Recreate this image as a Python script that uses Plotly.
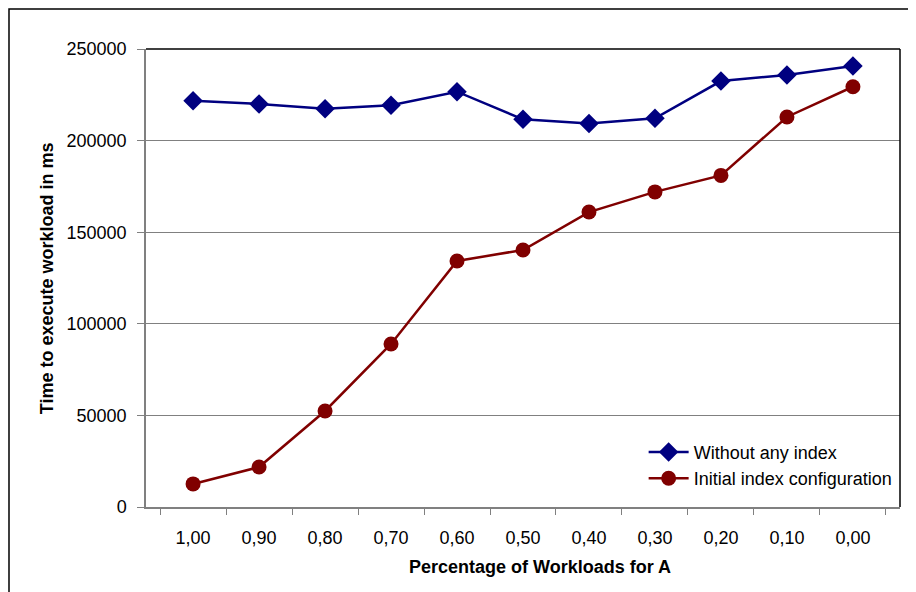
import plotly.graph_objects as go

# Data
workload_share = ["1,00", "0,90", "0,80", "0,70", "0,60", "0,50", "0,40", "0,30", "0,20", "0,10", "0,00"]
without_index = [221700, 220000, 217400, 219300, 226700, 211600, 209400, 212200, 232500, 235800, 240700]
initial_index = [12600, 21800, 52400, 89000, 134300, 140300, 161000, 172000, 181000, 212900, 229400]
y_ticks = [0, 50000, 100000, 150000, 200000, 250000]

FONT = "Liberation Sans, Arial, sans-serif"

fig = go.Figure()

fig.add_trace(go.Scatter(
    x=workload_share, y=without_index,
    name="Without any index",
    mode="lines+markers",
    line=dict(color="#000080", width=2.5),
    marker=dict(symbol="diamond", size=15, color="#000080"),
))

fig.add_trace(go.Scatter(
    x=workload_share, y=initial_index,
    name="Initial index configuration",
    mode="lines+markers",
    line=dict(color="#800000", width=2.5),
    marker=dict(symbol="circle", size=15, color="#800000"),
))

# the page adds an 8px body margin, so the margins are set 8px smaller
# to land the plot area at roughly x 146..900, y 49..507 on screen
fig.update_layout(
    width=916, height=592,
    margin=dict(l=138, r=24, t=41, b=93, autoexpand=False),
    paper_bgcolor="white",
    plot_bgcolor="white",
    font=dict(family=FONT, size=18, color="black"),
    showlegend=True,
    legend=dict(
        x=0.66, y=0.16, xanchor="left", yanchor="top",
        bgcolor="rgba(0,0,0,0)",
        font=dict(family=FONT, size=18, color="black"),
        itemwidth=40,
        tracegroupgap=0,
    ),
)

fig.update_xaxes(
    type="category",
    showgrid=False,
    showline=True, linecolor="#808080", linewidth=1.5,
    ticks="outside", tickson="boundaries", ticklen=6, tickcolor="#808080",
    ticklabelstandoff=14,
    zeroline=False,
)

fig.update_yaxes(
    range=[0, 250000],
    tickvals=y_ticks,
    ticktext=[str(v) for v in y_ticks],
    showgrid=True, gridcolor="#808080", gridwidth=1,
    showline=True, linecolor="#808080", linewidth=1.5,
    ticks="outside", ticklen=7, tickcolor="#808080",
    ticklabelstandoff=7,
    zeroline=False,
)

# black border on the top and right of the plot area
fig.add_shape(type="line", xref="paper", yref="paper", x0=0, x1=1, y0=1, y1=1,
              line=dict(color="black", width=1.5))
fig.add_shape(type="line", xref="paper", yref="paper", x0=1, x1=1, y0=0, y1=1,
              line=dict(color="black", width=1.5))

# outer chart border (runs off the right and bottom edges)
fig.add_shape(type="rect", xref="paper", yref="paper",
              x0=-0.1817, x1=1.05, y0=-0.25, y1=1.0873,
              line=dict(color="black", width=1.5), layer="below")

# axis titles
fig.add_annotation(text="<b>Percentage of Workloads for A</b>", xref="paper", yref="paper",
                   x=0.5225, y=-0.131, xanchor="center", yanchor="middle", showarrow=False,
                   font=dict(family=FONT, size=18, color="black"))
fig.add_annotation(text="<b>Time to execute workload in ms</b>", xref="paper", yref="paper",
                   x=-0.131, y=0.5, xanchor="center", yanchor="middle", showarrow=False,
                   textangle=-90, font=dict(family=FONT, size=18, color="black"))

fig.write_html("out.html")
